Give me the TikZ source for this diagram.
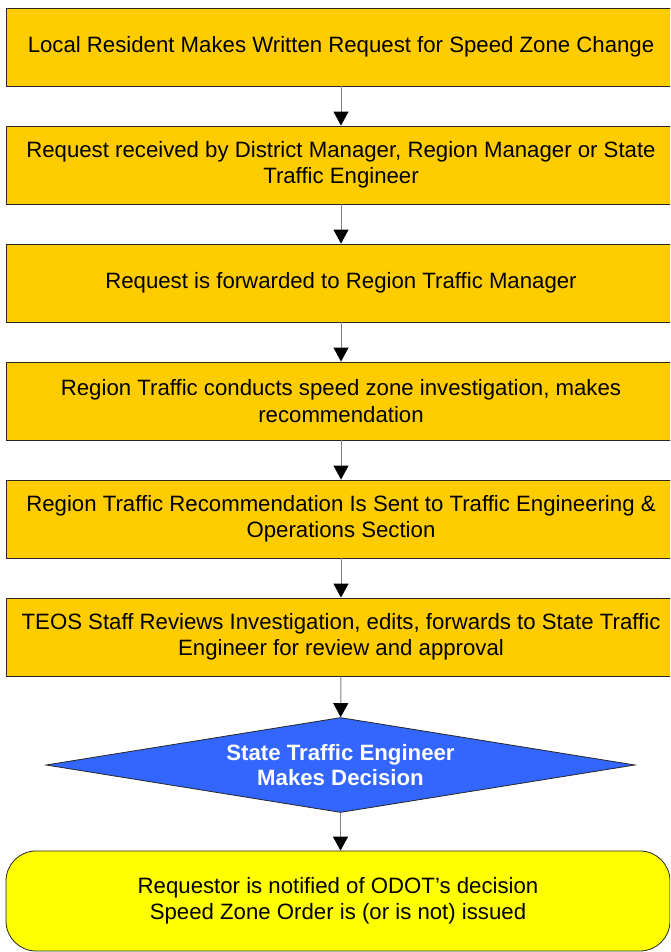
\documentclass[tikz,border=0pt]{standalone}
\usepackage{fontspec}
\setmainfont{Liberation Sans}
\usetikzlibrary{shapes.geometric}
\usetikzlibrary{arrows.meta}
\definecolor{stepgold}{HTML}{FFCC00}
\definecolor{decblue}{HTML}{3366FF}
\definecolor{endyellow}{HTML}{FFFF00}
\tikzset{basic/.style={draw=black!85,line width=0.8pt,align=center,
                       font=\fontsize{22.2}{26.5}\selectfont,inner sep=0pt}}
\tikzset{stepbox/.style={basic,fill=stepgold,minimum width=670pt,minimum height=78pt}}
\tikzset{decision/.style={basic,diamond,fill=decblue,text=white,aspect=6.2,
                          font=\fontsize{22.2}{25.5}\selectfont\bfseries,
                          minimum width=589pt,minimum height=95pt}}
\tikzset{finish/.style={basic,fill=endyellow,rounded corners=30pt,
                        minimum width=664pt,minimum height=100pt}}
\tikzset{flow/.style={draw=black!50,line width=1pt,
                      -{Triangle[length=14pt,width=15pt,color=black]}}}

\begin{document}
\begin{tikzpicture}[x=1pt,y=1pt]

    \useasboundingbox (0,0) rectangle (670,952);
    \clip (0,0) rectangle (670,952);

    \node[stepbox] (req) at (341,905){Local Resident Makes Written Request for Speed Zone Change};
    \node[stepbox] (recv) at (341,787){Request received by District Manager, Region Manager or State\\Traffic Engineer};
    \node[stepbox] (fwd) at (341,669){Request is forwarded to Region Traffic Manager};
    \node[stepbox] (inv) at (341,551){Region Traffic conducts speed zone investigation, makes\\recommendation};
    \node[stepbox] (rec) at (341,433){Region Traffic Recommendation Is Sent to Traffic Engineering \&\\Operations Section};
    \node[stepbox] (teos) at (341,315){TEOS Staff Reviews Investigation, edits, forwards to State Traffic\\Engineer for review and approval};

    \node[decision] (dec) at (340.5,187){State Traffic Engineer\\Makes Decision};

    \node[finish] (note) at (338,51){Requestor is notified of ODOT’s decision\\Speed Zone Order is (or is not) issued};

    \draw[flow] (req) -- (recv);
    \draw[flow] (recv) -- (fwd);
    \draw[flow] (fwd) -- (inv);
    \draw[flow] (inv) -- (rec);
    \draw[flow] (rec) -- (teos);
    \draw[flow] (teos) -- (dec);
    \draw[flow] (dec) -- (note.north -| dec);

\end{tikzpicture}
\end{document}
